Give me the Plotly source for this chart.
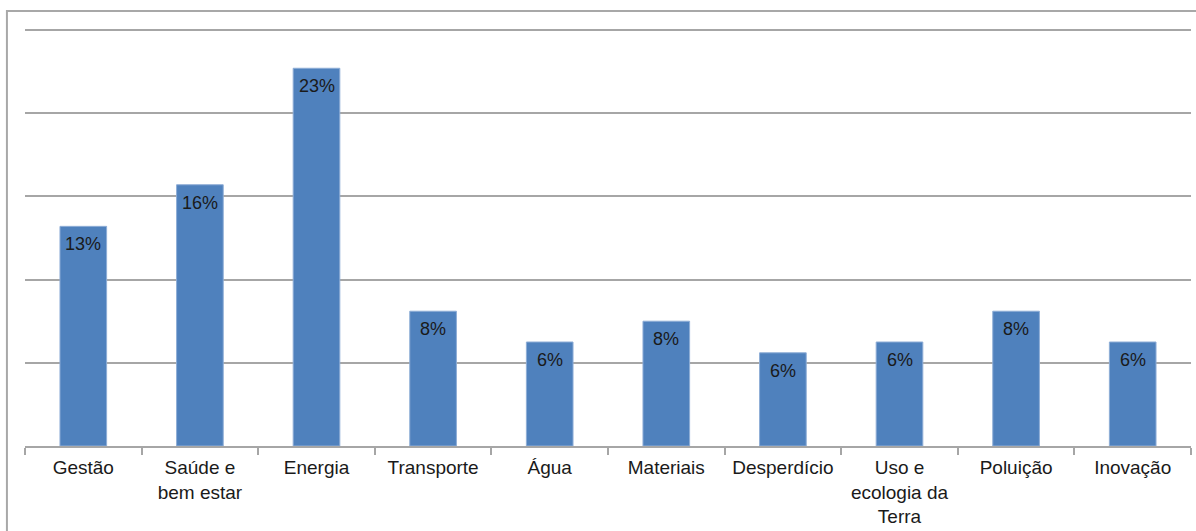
import plotly.graph_objects as go

# Share of each theme (%)
categories = ["Gestão", "Saúde e bem estar", "Energia", "Transporte", "Água",
              "Materiais", "Desperdício", "Uso e ecologia da Terra", "Poluição", "Inovação"]
tick_labels = ["Gestão", "Saúde e<br>bem estar", "Energia", "Transporte", "Água",
               "Materiais", "Desperdício", "Uso e<br>ecologia da<br>Terra", "Poluição", "Inovação"]
shares = [13.2, 15.7, 22.7, 8.1, 6.25, 7.5, 5.6, 6.25, 8.1, 6.25]

BAR = "#4F81BD"
GRID = "#A6A6A6"
FONT = "Liberation Sans, Arial, sans-serif"

fig = go.Figure(
    go.Bar(
        x=categories,
        y=shares,
        marker=dict(color=BAR, line=dict(color="#8EADD6", width=1)),
        width=0.4,
        hoverinfo="skip",
    )
)

# value labels just inside the top of each bar
for cat, val in zip(categories, shares):
    fig.add_annotation(
        x=cat, y=val, text=f"{val:.0f}%", showarrow=False,
        yanchor="middle", yshift=-18,
        font=dict(family=FONT, size=18, color="#1A1A1A"),
    )

# outer chart frame
fig.add_shape(type="rect", xref="paper", yref="paper",
              x0=-0.0155, x1=1.2, y0=-0.3, y1=1.033,
              line=dict(color="#A8A8A8", width=2), layer="below")

fig.update_layout(
    width=1196, height=531,
    margin=dict(l=25, r=5, t=25, b=85),
    paper_bgcolor="white", plot_bgcolor="white",
    showlegend=False,
    font=dict(family=FONT, size=19, color="#1A1A1A"),
    xaxis=dict(
        tickmode="array", tickvals=categories, ticktext=tick_labels,
        showline=True, linecolor=GRID, linewidth=2,
        ticks="outside", tickson="boundaries", ticklen=7, tickcolor=GRID, tickwidth=2,
        tickfont=dict(size=19), ticklabelstandoff=3,
        showgrid=False,
    ),
    yaxis=dict(
        range=[0, 25.3], tickvals=[5, 10, 15, 20, 25], showticklabels=False,
        showgrid=True, gridcolor=GRID, gridwidth=2,
        zeroline=False, showline=False,
    ),
)

fig.write_html("out.html")
